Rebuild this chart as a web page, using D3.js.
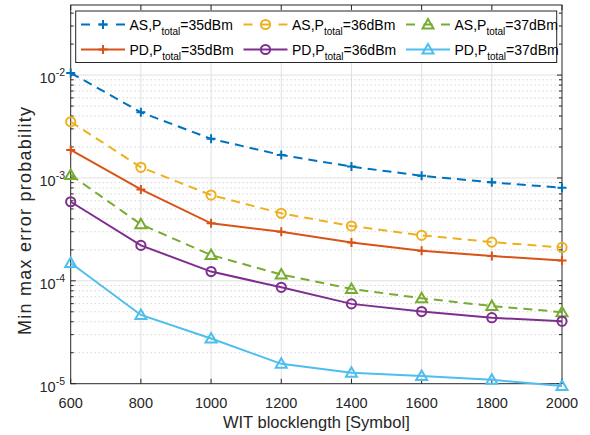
<!DOCTYPE html>
<html>
<head>
<meta charset="utf-8">
<script src="https://cdn.jsdelivr.net/npm/d3@7"></script>
<style>
body{margin:0;background:#fff;}
svg{font-family:"Liberation Sans",Arial,Helvetica,sans-serif;}
</style>
</head>
<body>
<svg id="chart" width="590" height="435"></svg>
<script>
// blocklengths on the x axis
var blocklength = [600, 800, 1000, 1200, 1400, 1600, 1800, 2000];
var xTicks = [600, 800, 1000, 1200, 1400, 1600, 1800, 2000];
var yTickExp = [-5, -4, -3, -2];

// min max error probability
var as35 = [0.0105, 0.00435, 0.0024, 0.00167, 0.00129, 0.00105, 0.000906, 0.000803];
var as36 = [0.00352, 0.00127, 0.000682, 0.000453, 0.000341, 0.000277, 0.000238, 0.000211];
var as37 = [0.00107, 0.000354, 0.000178, 0.000115, 0.0000835, 0.0000677, 0.0000569, 0.0000496];
var pd35 = [0.00187, 0.000774, 0.000362, 0.0003, 0.000236, 0.000196, 0.000174, 0.000158];
var pd36 = [0.000587, 0.000221, 0.000123, 0.0000865, 0.0000597, 0.0000503, 0.0000438, 0.0000404];
var pd37 = [0.000149, 0.0000466, 0.0000275, 0.0000156, 0.0000128, 0.0000119, 0.0000109, 0.0000095];

var seriesNames = ["AS", "AS", "AS", "PD", "PD", "PD"];
var seriesPower = ["35", "36", "37", "35", "36", "37"];

var series = [
    {name: seriesNames[0], p: seriesPower[0], vals: as35, color: "#0072BD", dash: true, marker: "plus"},
    {name: seriesNames[1], p: seriesPower[1], vals: as36, color: "#EDB120", dash: true, marker: "circle"},
    {name: seriesNames[2], p: seriesPower[2], vals: as37, color: "#77AC30", dash: true, marker: "tri"},
    {name: seriesNames[3], p: seriesPower[3], vals: pd35, color: "#D95319", dash: false, marker: "plus"},
    {name: seriesNames[4], p: seriesPower[4], vals: pd36, color: "#7E2F8E", dash: false, marker: "circle"},
    {name: seriesNames[5], p: seriesPower[5], vals: pd37, color: "#4DBEEE", dash: false, marker: "tri"}
];

var svg = d3.select("#chart");
var L = 70.7, R = 562, T = 5, B = 383.7;

var x = d3.scaleLinear().domain([600, 2000]).range([L, R]);
var y = d3.scaleLog().domain([1e-5, 0.048]).range([B, T]);

// grid
var grid = svg.append("g");
xTicks.forEach(function(t){
    if (t==600 || t==2000) return;
    grid.append("line").attr("x1", x(t)).attr("x2", x(t)).attr("y1", T).attr("y2", B)
        .attr("stroke", "#e0e0e0").attr("stroke-width", 1);
});
var minors = [];
for (var e=-5; e<=-2; e++){
    for (var m=2; m<=9; m++){
        var v = m*Math.pow(10, e);
        if (v < y.domain()[1]) minors.push(v);
    }
}
minors.forEach(function(v){
    grid.append("line").attr("x1", L).attr("x2", R).attr("y1", y(v)).attr("y2", y(v))
        .attr("stroke", "#c4c4c4").attr("stroke-width", 1).attr("stroke-dasharray", "1,3");
});
yTickExp.forEach(function(e){
    if (e==-5) return;
    grid.append("line").attr("x1", L).attr("x2", R).attr("y1", y(Math.pow(10,e))).attr("y2", y(Math.pow(10,e)))
        .attr("stroke", "#e0e0e0").attr("stroke-width", 1);
});

// axes box and ticks
var ax = svg.append("g").attr("stroke", "#262626").attr("stroke-width", 1);
ax.append("rect").attr("x", L).attr("y", T).attr("width", R-L).attr("height", B-T).attr("fill", "none");
xTicks.forEach(function(t){
    ax.append("line").attr("x1", x(t)).attr("x2", x(t)).attr("y1", B).attr("y2", B-5);
    ax.append("line").attr("x1", x(t)).attr("x2", x(t)).attr("y1", T).attr("y2", T+5);
});
yTickExp.forEach(function(e){
    var yy = y(Math.pow(10,e));
    ax.append("line").attr("x1", L).attr("x2", L+5).attr("y1", yy).attr("y2", yy);
    ax.append("line").attr("x1", R).attr("x2", R-5).attr("y1", yy).attr("y2", yy);
});
minors.forEach(function(v){
    ax.append("line").attr("x1", L).attr("x2", L+3).attr("y1", y(v)).attr("y2", y(v));
    ax.append("line").attr("x1", R).attr("x2", R-3).attr("y1", y(v)).attr("y2", y(v));
});

// tick labels
svg.append("g").selectAll("text").data(xTicks).enter().append("text")
    .attr("x", function(d){ return x(d); }).attr("y", 408)
    .attr("text-anchor", "middle").attr("font-size", 14.5).attr("fill", "#262626")
    .text(function(d){ return d; });

var yl = svg.append("g").selectAll("text").data(yTickExp).enter().append("text")
    .attr("x", 65).attr("y", function(d){ return y(Math.pow(10,d)) + 8; })
    .attr("text-anchor", "end").attr("font-size", 14.5).attr("fill", "#262626");
yl.append("tspan").text("10");
yl.append("tspan").attr("dy", -7).attr("font-size", 10.5).text(function(d){ return d; });

// axis labels
svg.append("text").attr("x", (L+R)/2).attr("y", 428).attr("text-anchor", "middle")
    .attr("font-size", 16.5).attr("fill", "#262626").text("WIT blocklength [Symbol]");
svg.append("text").attr("transform", "translate(31,221) rotate(-90)")
    .attr("text-anchor", "middle").attr("font-size", 18).attr("fill", "#262626")
    .attr("textLength", 228).attr("lengthAdjust", "spacing")
    .text("Min max error probability");

// markers
function drawMarker(g, kind, cx, cy, color){
    if (kind=="plus"){
        g.append("path").attr("d", "M"+(cx-4.5)+","+cy+"H"+(cx+4.5)+"M"+cx+","+(cy-4.5)+"V"+(cy+4.5))
            .attr("stroke", color).attr("stroke-width", 2).attr("fill", "none");
    }else if (kind=="circle"){
        g.append("circle").attr("cx", cx).attr("cy", cy).attr("r", 4.6)
            .attr("stroke", color).attr("stroke-width", 2).attr("fill", "none");
    }else{
        g.append("path").attr("d", "M"+cx+","+(cy-5.5)+"L"+(cx+5.5)+","+(cy+4)+"L"+(cx-5.5)+","+(cy+4)+"Z")
            .attr("stroke", color).attr("stroke-width", 2).attr("fill", "none").attr("stroke-linejoin", "miter");
    }
}

var line = d3.line().x(function(d,i){ return x(blocklength[i]); }).y(function(d){ return y(d); });
var plot = svg.append("g");
series.forEach(function(s){
    plot.append("path").datum(s.vals).attr("d", line).attr("fill", "none")
        .attr("stroke", s.color).attr("stroke-width", 2)
        .attr("stroke-dasharray", s.dash ? "9,6" : null);
    s.vals.forEach(function(v,i){ drawMarker(plot, s.marker, x(blocklength[i]), y(v), s.color); });
});

// legend
var lg = svg.append("g");
lg.append("rect").attr("x", 75.7).attr("y", 11).attr("width", 481).attr("height", 51.5)
    .attr("fill", "#fff").attr("stroke", "#262626").attr("stroke-width", 1);
series.forEach(function(s, i){
    var col = i%3, row = Math.floor(i/3);
    var x0 = 81 + col*162.5, yy = 24.5 + row*25;
    lg.append("line").attr("x1", x0).attr("x2", x0+44).attr("y1", yy).attr("y2", yy)
        .attr("stroke", s.color).attr("stroke-width", 2)
        .attr("stroke-dasharray", s.dash ? "9,8.5" : null);
    drawMarker(lg, s.marker, x0+22, yy, s.color);
    var t = lg.append("text").attr("x", x0+48.5).attr("y", yy+5).attr("font-size", 14).attr("fill", "#000");
    t.append("tspan").text(s.name + ",P");
    t.append("tspan").attr("dy", 5).attr("font-size", 10).text("total");
    t.append("tspan").attr("dy", -5).text("=" + s.p + "dBm");
});
</script>
</body>
</html>
